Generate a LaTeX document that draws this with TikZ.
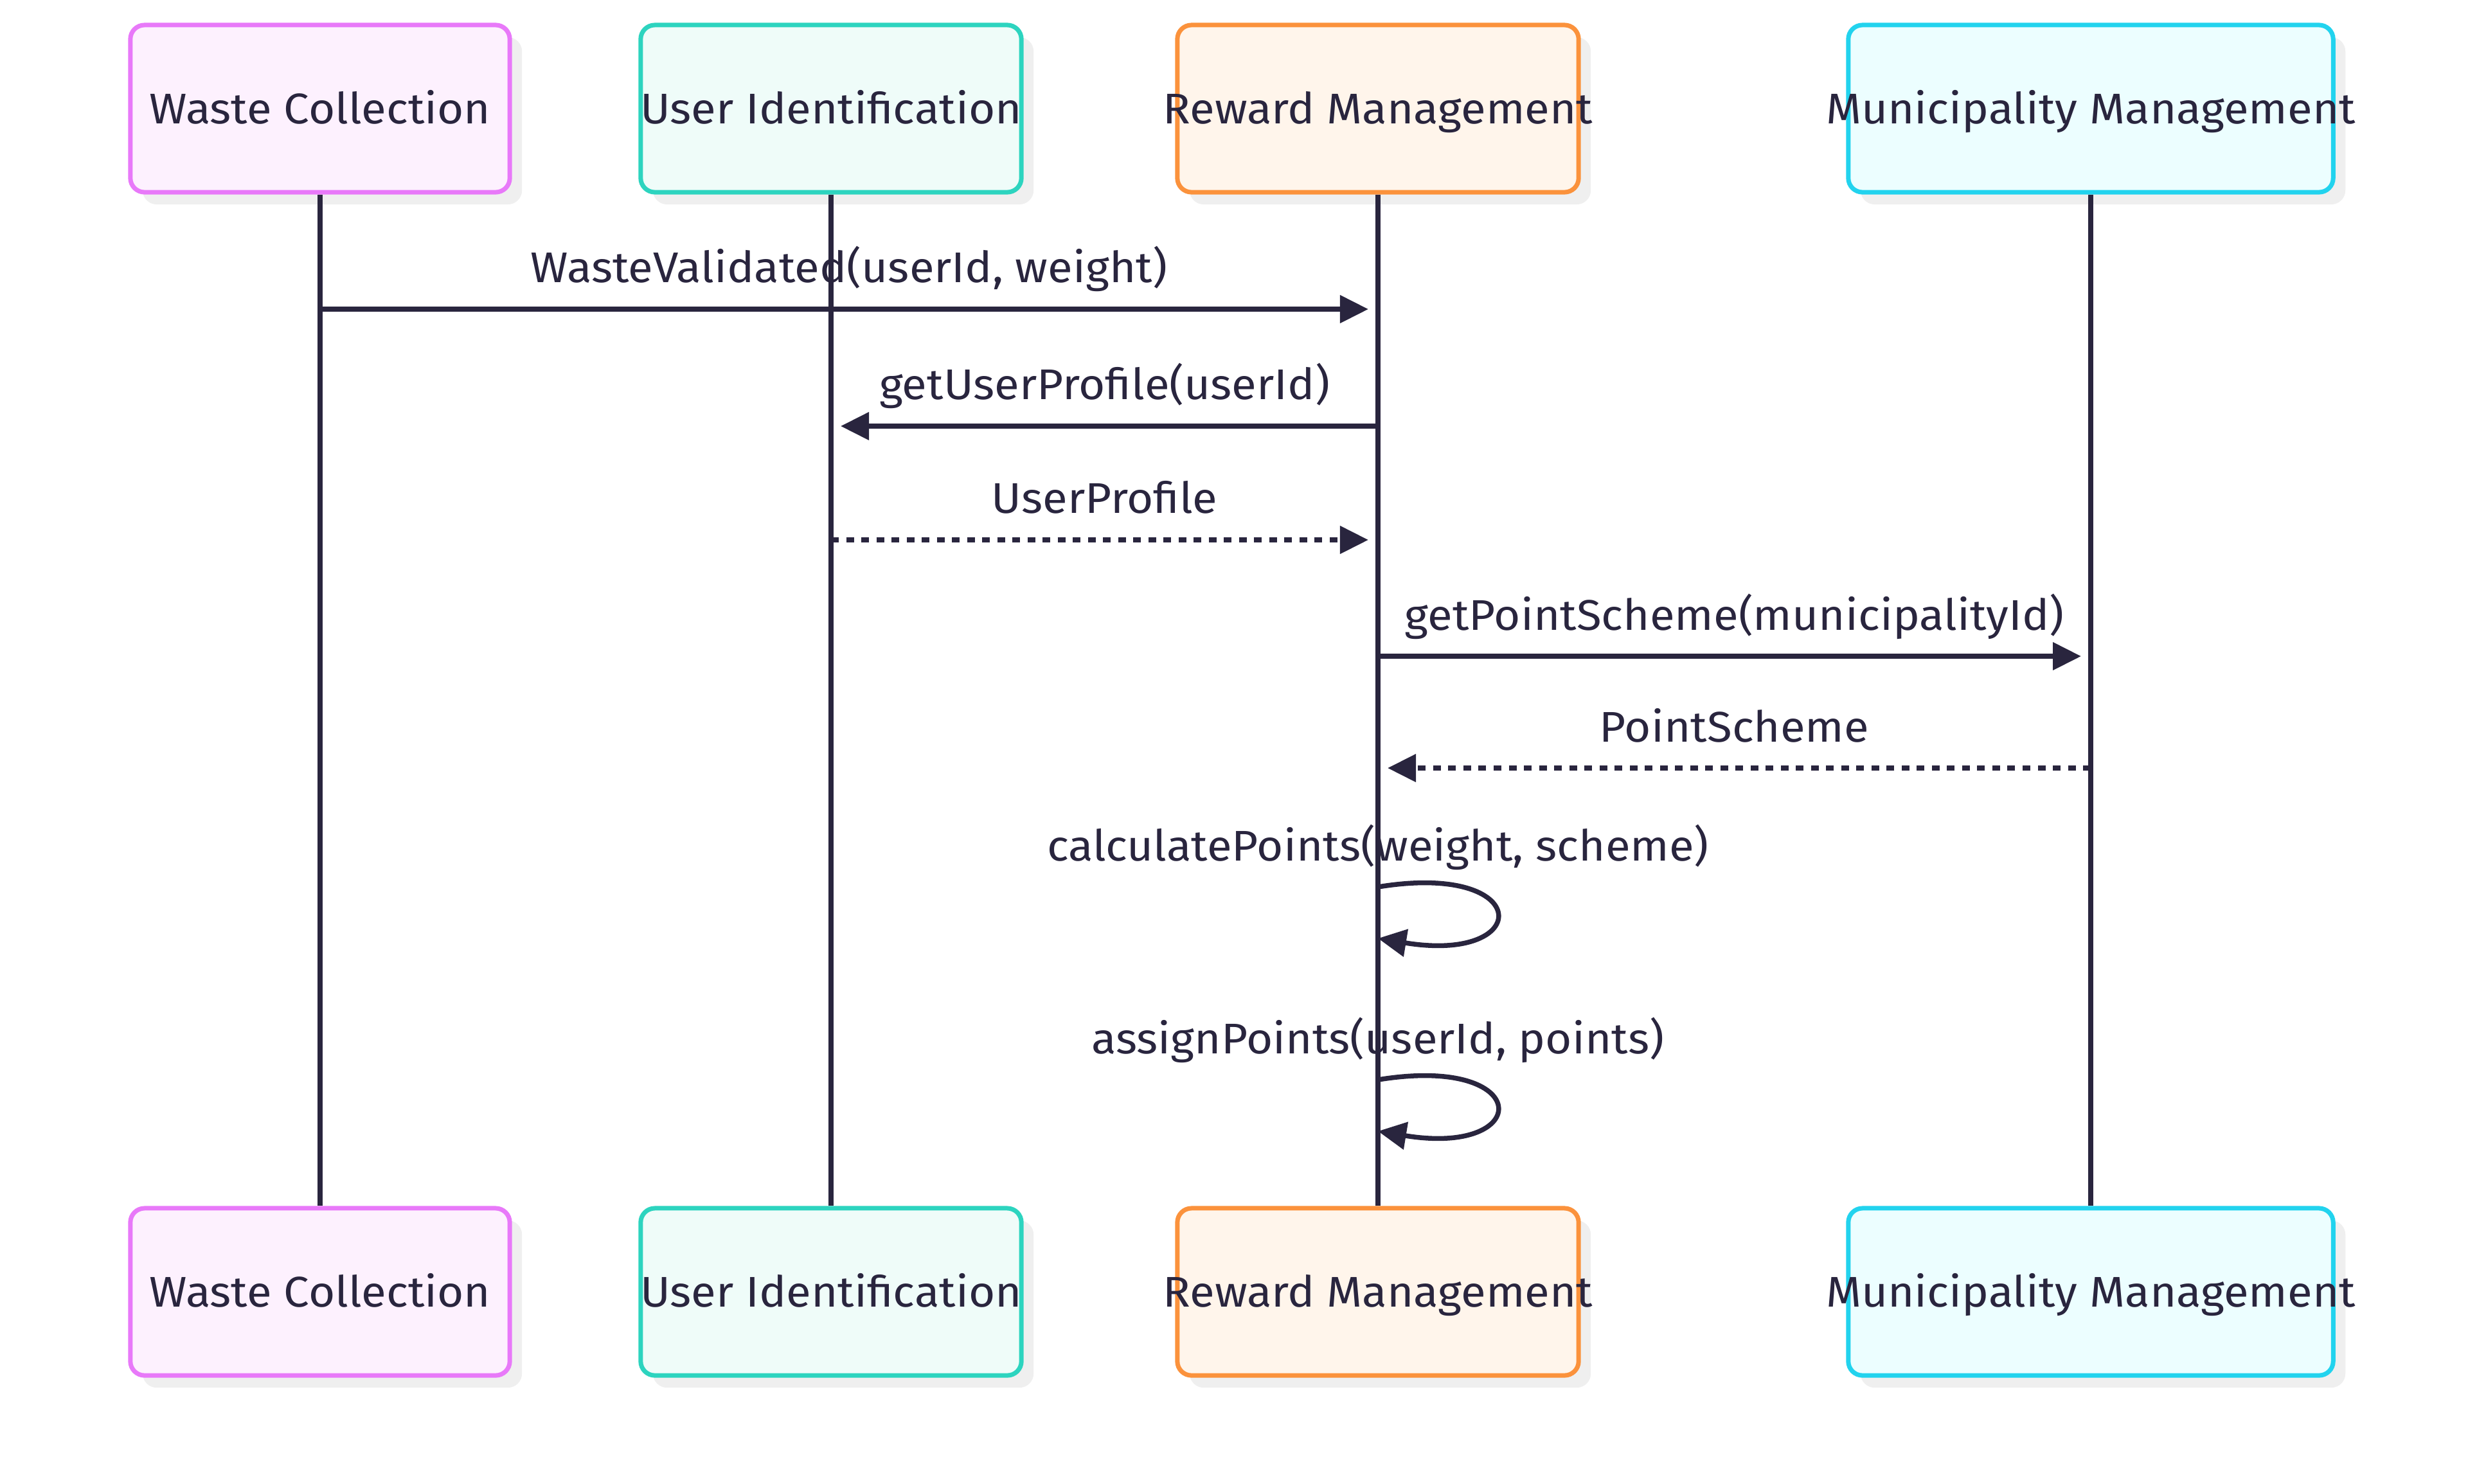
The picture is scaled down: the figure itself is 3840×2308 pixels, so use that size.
\documentclass[tikz,border=0pt]{standalone}
\usepackage{fontspec}
\setmainfont[FakeStretch=1.06]{Fira Sans}
\usetikzlibrary{arrows.meta, shadows}

\definecolor{ink}{HTML}{29253E}
\definecolor{pinkline}{HTML}{E879F9}
\definecolor{pinkfill}{HTML}{FDF1FE}
\definecolor{tealline}{HTML}{2DD4BF}
\definecolor{tealfill}{HTML}{EFFCF9}
\definecolor{orangeline}{HTML}{FB923C}
\definecolor{orangefill}{HTML}{FFF5EB}
\definecolor{cyanline}{HTML}{22D3EE}
\definecolor{cyanfill}{HTML}{ECFEFF}
\definecolor{shade}{HTML}{EFEFEF}

\tikzset{
    actor/.style={draw, rounded corners=0.22cm, line width=0.07cm, minimum height=2.6cm,
        inner xsep=-0.6cm, inner ysep=0pt, text height=0.46cm, text depth=0pt, text=ink,
        font=\fontsize{19}{23}\selectfont,
        drop shadow={shadow xshift=0.19cm, shadow yshift=-0.19cm, fill=shade, opacity=1}},
    lifeline/.style={draw=ink, line width=0.075cm},
    msg/.style={draw=ink, line width=0.075cm, -{Triangle[length=0.44cm, width=0.42cm]}, shorten >=0.15cm},
    reply/.style={msg, dash pattern=on 0.12cm off 0.115cm},
    msglabel/.style={anchor=base, yshift=0.41cm, text=ink, font=\fontsize{19}{23}\selectfont},
}

\begin{document}
\begin{tikzpicture}[x=0.01cm, y=-0.01cm]
    \useasboundingbox (0,0) rectangle (3840,2308);

    % Draw participants
    \node[actor, draw=pinkline, fill=pinkfill, minimum width=5.9cm] (wc) at (498,169) {Waste Collection};
    \node[actor, draw=tealline, fill=tealfill, minimum width=5.92cm] (ui) at (1293,169) {User Identification};
    \node[actor, draw=orangeline, fill=orangefill, minimum width=6.24cm] (rm) at (2144,169) {Reward Management};
    \node[actor, draw=cyanline, fill=cyanfill, minimum width=7.54cm] (mm) at (3253,169) {Municipality Management};

    \node[actor, draw=pinkline, fill=pinkfill, minimum width=5.9cm] (wcb) at (498,2010) {Waste Collection};
    \node[actor, draw=tealline, fill=tealfill, minimum width=5.92cm] (uib) at (1293,2010) {User Identification};
    \node[actor, draw=orangeline, fill=orangefill, minimum width=6.24cm] (rmb) at (2144,2010) {Reward Management};
    \node[actor, draw=cyanline, fill=cyanfill, minimum width=7.54cm] (mmb) at (3253,2010) {Municipality Management};

    % Draw lifelines
    \draw[lifeline] (wc) -- (wcb);
    \draw[lifeline] (ui) -- (uib);
    \draw[lifeline] (rm) -- (rmb);
    \draw[lifeline] (mm) -- (mmb);

    % Draw messages
    \draw[msg] (wc |- 0,481) -- (rm |- 0,481) node[midway, msglabel] (l1) {WasteValidated(userId, weight)};
    \draw[msg] (rm |- 0,663) -- (ui |- 0,663) node[midway, msglabel] (l2) {getUserProfile(userId)};
    \draw[reply] (ui |- 0,840) -- (rm |- 0,840) node[midway, msglabel] (l3) {UserProfile};
    \draw[msg] (rm |- 0,1021) -- (mm |- 0,1021) node[midway, msglabel] (l4) {getPointScheme(municipalityId)};
    \draw[reply] (mm |- 0,1195) -- (rm |- 0,1195) node[midway, msglabel] (l5) {PointScheme};

    % Self calls
    \draw[msg, shorten >=0pt] (rm |- 0,1380) .. controls +(243,-40) and +(243,40) .. (rm |- 0,1460);
    \node[msglabel] (l6) at (rm |- 0,1380) {calculatePoints(weight, scheme)};
    \draw[msg, shorten >=0pt] (rm |- 0,1680) .. controls +(243,-40) and +(243,40) .. (rm |- 0,1760);
    \node[msglabel] (l7) at (rm |- 0,1680) {assignPoints(userId, points)};
\end{tikzpicture}
\end{document}
